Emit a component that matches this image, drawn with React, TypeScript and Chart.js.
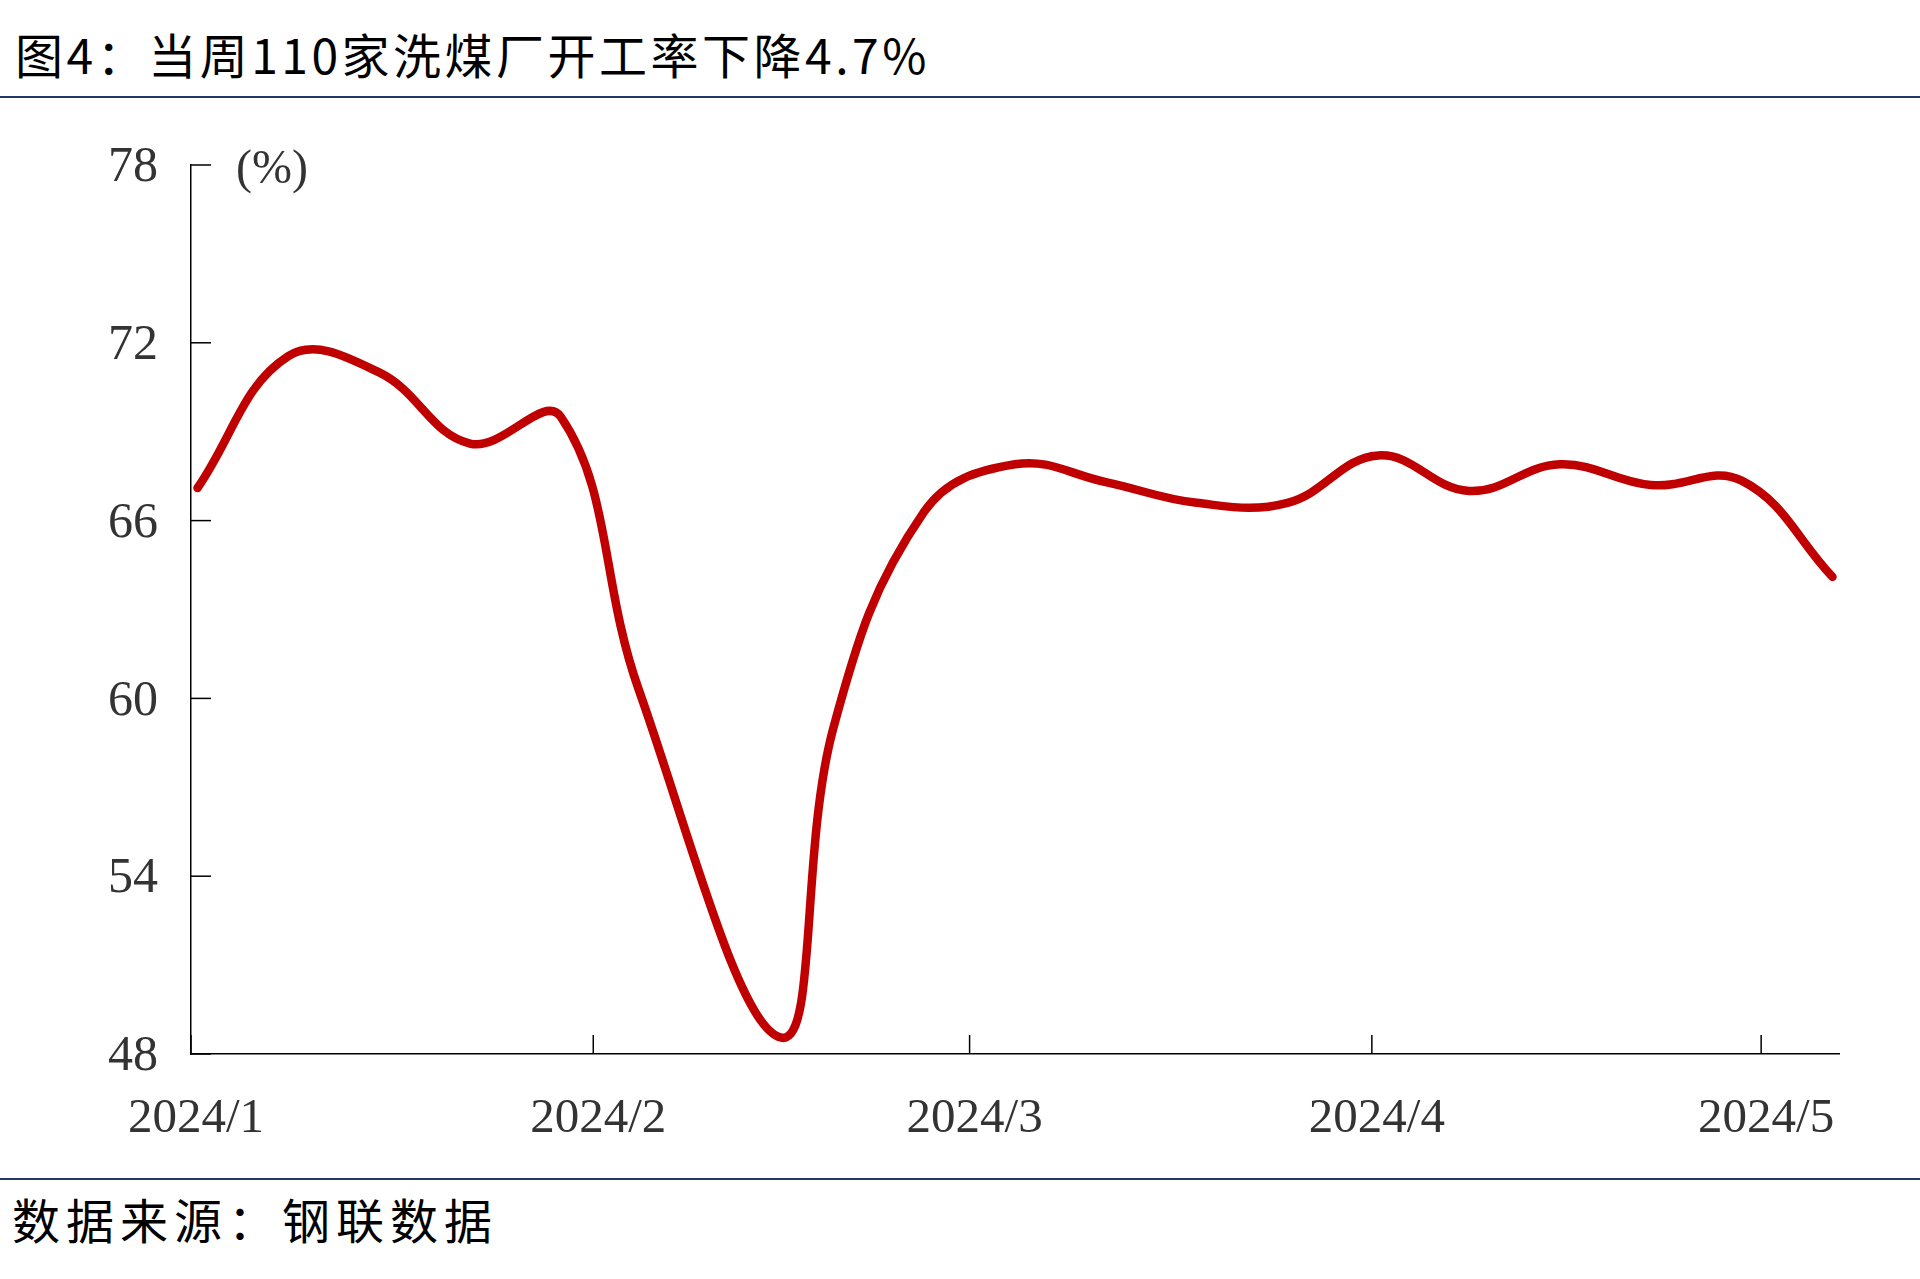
import React, { useEffect, useRef } from "react";
import { Chart, registerables } from "chart.js";

Chart.register(...registerables);

// ---- data ----
const dates = [
  "2024-01-05", "2024-01-12", "2024-01-19", "2024-01-26", "2024-02-02",
  "2024-02-08", "2024-02-19", "2024-02-23", "2024-03-01", "2024-03-08",
  "2024-03-15", "2024-03-22", "2024-03-29", "2024-04-05", "2024-04-12",
  "2024-04-19", "2024-04-26", "2024-05-03", "2024-05-10",
];
const values = [
  67.1, 71.55, 71.0, 68.6, 69.5,
  60.3, 48.55, 59.0, 66.3, 67.9,
  67.3, 66.6, 66.6, 68.2, 67.0,
  67.9, 67.2, 67.35, 64.1,
];
const axisStart = "2024-01-05";
const axisEnd = "2024-05-11";
const monthTickDates = ["2024-01-05", "2024-02-05", "2024-03-05", "2024-04-05", "2024-05-05"];
const monthTickLabels = ["2024/1", "2024/2", "2024/3", "2024/4", "2024/5"];
const yTicks = [48, 54, 60, 66, 72, 78];

const titleText = "图4：当周110家洗煤厂开工率下降4.7%";
const unitText = "(%)";
const sourceText = "数据来源：钢联数据";

const DAY = 86400000;
const dayOf = (s: string) => (Date.parse(s) - Date.parse(axisStart)) / DAY;

const serif = "'Liberation Serif', 'Times New Roman', serif";
const cjk = "'Noto Sans CJK SC', 'Noto Sans', sans-serif";

const innerTicks = {
  id: "innerTicks",
  beforeDatasetsDraw(chart: any) {
    const { ctx, chartArea, scales } = chart;
    ctx.save();
    ctx.strokeStyle = "#000";
    ctx.lineWidth = 1.5;
    scales.x.ticks.forEach((t: any) => {
      const px = scales.x.getPixelForValue(t.value);
      ctx.beginPath();
      ctx.moveTo(px, chartArea.bottom);
      ctx.lineTo(px, chartArea.bottom - 19);
      ctx.stroke();
    });
    scales.y.ticks.forEach((t: any) => {
      const py = scales.y.getPixelForValue(t.value);
      ctx.beginPath();
      ctx.moveTo(chartArea.left, py);
      ctx.lineTo(chartArea.left + 20, py);
      ctx.stroke();
    });
    ctx.restore();
  },
};

export default function App() {
  const canvasRef = useRef<HTMLCanvasElement | null>(null);

  useEffect(() => {
    if (!canvasRef.current) return;
    const points = dates.map((d, i) => ({ x: dayOf(d) + 0.5, y: values[i] }));
    const chart = new Chart(canvasRef.current, {
      type: "line",
      data: {
        datasets: [
          {
            data: points,
            borderColor: "#C00000",
            borderWidth: 8.5,
            pointRadius: 0,
            tension: 0.4,
            borderCapStyle: "round",
            borderJoinStyle: "round",
            fill: false,
          },
        ],
      },
      options: {
        animation: false,
        responsive: false,
        maintainAspectRatio: false,
        layout: { padding: { left: 0, right: 81, top: 65, bottom: 0 } },
        plugins: { legend: { display: false }, tooltip: { enabled: false } },
        scales: {
          x: {
            type: "linear",
            min: 0,
            max: dayOf(axisEnd),
            grid: { display: false, drawTicks: false },
            border: { display: true, color: "#000", width: 1.5 },
            afterBuildTicks: (scale: any) => {
              scale.ticks = monthTickDates.map((d) => ({ value: dayOf(d) }));
            },
            afterFit: (scale: any) => {
              scale.height = 106;
            },
            ticks: {
              autoSkip: false,
              maxRotation: 0,
              padding: 36,
              labelOffset: 5,
              color: "#333",
              font: { family: serif, size: 49 },
              callback: (_v: any, i: number) => monthTickLabels[i],
            },
          },
          y: {
            min: 48,
            max: 78,
            grid: { display: false, drawTicks: false },
            border: { display: true, color: "#000", width: 1.5 },
            afterBuildTicks: (scale: any) => {
              scale.ticks = yTicks.map((v) => ({ value: v }));
            },
            afterFit: (scale: any) => {
              scale.width = 191;
            },
            ticks: {
              padding: 33,
              labelOffset: 3,
              color: "#333",
              font: { family: serif, size: 50 },
            },
          },
        },
      },
      plugins: [innerTicks],
    });
    return () => chart.destroy();
  }, []);

  return (
    <div style={{ position: "absolute", left: 0, top: 0, width: 1920, height: 1279, background: "#fff", overflow: "hidden" }}>
      <div
        style={{
          position: "absolute", left: 15, top: 29, fontFamily: cjk, fontSize: 48,
          lineHeight: "48px", letterSpacing: 3.5, color: "#000", whiteSpace: "nowrap",
        }}
      >
        {titleText}
      </div>
      <div style={{ position: "absolute", left: 0, top: 96, width: 1920, height: 2, background: "#1F3864" }} />
      <canvas
        ref={canvasRef}
        width={1920}
        height={1060}
        style={{ position: "absolute", left: 0, top: 100, width: 1920, height: 1060 }}
      />
      <div
        style={{
          position: "absolute", left: 236, top: 139, fontFamily: serif, fontSize: 48,
          lineHeight: "56px", color: "#333", whiteSpace: "nowrap",
        }}
      >
        {unitText}
      </div>
      <div style={{ position: "absolute", left: 0, top: 1178, width: 1920, height: 2, background: "#1F3864" }} />
      <div
        style={{
          position: "absolute", left: 12, top: 1194, fontFamily: cjk, fontSize: 48,
          lineHeight: "48px", letterSpacing: 6, color: "#000", whiteSpace: "nowrap",
        }}
      >
        {sourceText}
      </div>
    </div>
  );
}
